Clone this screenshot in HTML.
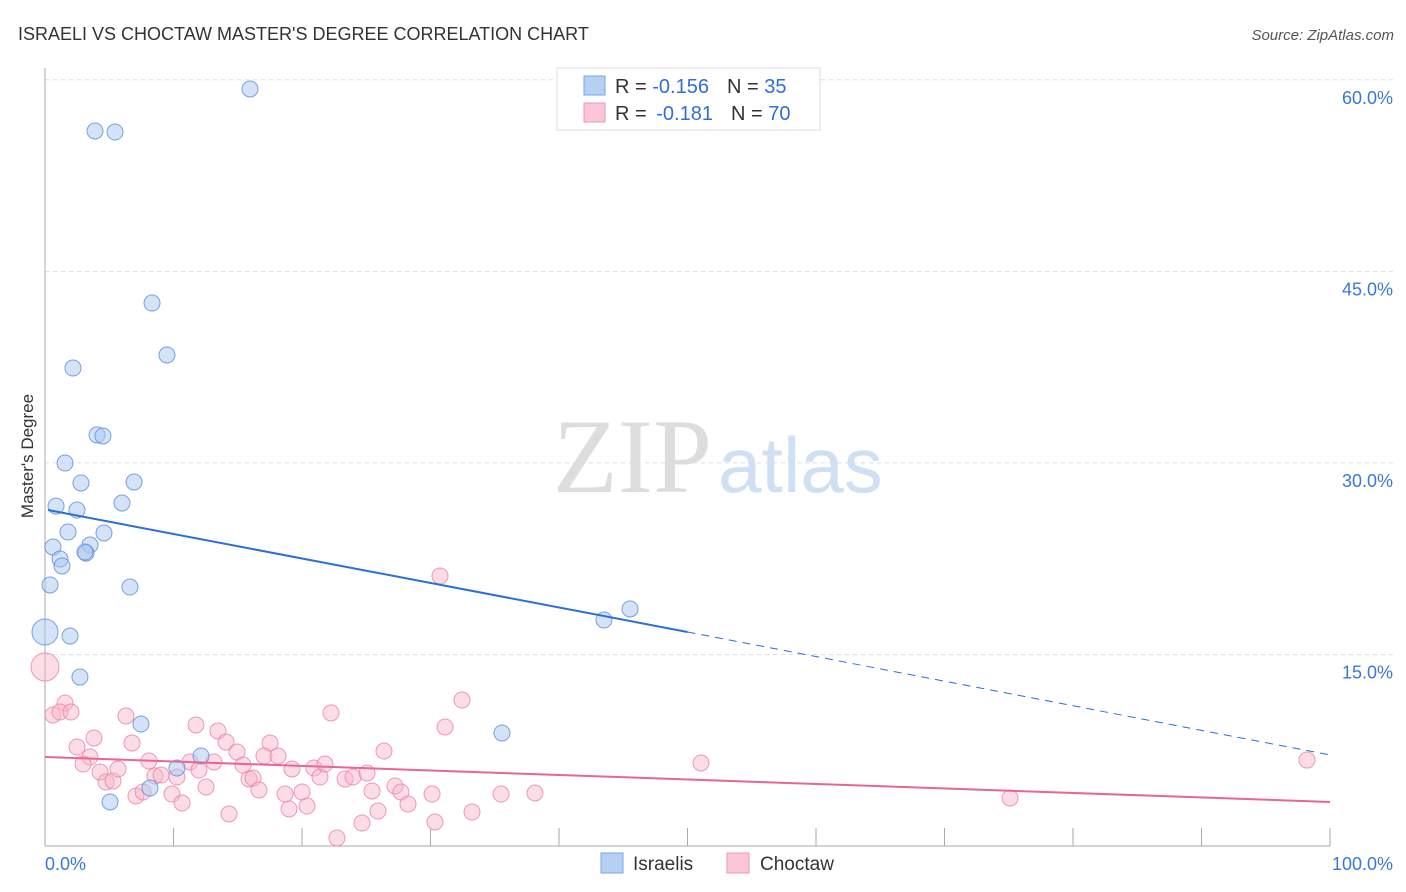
<!DOCTYPE html>
<html><head><meta charset="utf-8"><style>
body{margin:0;background:#fff;font-family:"Liberation Sans",sans-serif;}
svg{display:block}
</style></head><body>
<svg id="chart" width="1406" height="892">
<text x="18" y="40" font-size="18" fill="#333">ISRAELI VS CHOCTAW MASTER'S DEGREE CORRELATION CHART</text>
<text x="1394" y="40" font-size="15" fill="#555" font-style="italic" text-anchor="end">Source: ZipAtlas.com</text>
<text transform="translate(33,456) rotate(-90)" font-size="17" fill="#333" text-anchor="middle">Master's Degree</text>
<text x="553" y="492" font-size="106" fill="#ddd" font-family="Liberation Serif">ZIP</text>
<text x="718" y="492" font-size="78" fill="#d0e0f4">atlas</text>
<g id="grid"></g><g id="marks"></g>
<g>
<rect x="557" y="68" width="263" height="62" fill="#fff" stroke="#ddd"/>
<rect x="584" y="76" width="21" height="19" fill="#b6d0f4" stroke="#7aa6e6"/>
<rect x="584" y="103" width="21" height="19" fill="#fbc6d6" stroke="#ef95b3"/>
<text x="615" y="93" font-size="20" fill="#333">R = <tspan fill="#2f6fd6">-0.156</tspan><tspan dx="18">N = </tspan><tspan fill="#2f6fd6">35</tspan></text>
<text x="615" y="120" font-size="20" fill="#333">R = <tspan fill="#2f6fd6" dx="4">-0.181</tspan><tspan dx="18">N = </tspan><tspan fill="#2f6fd6">70</tspan></text>
</g>
<g>
<rect x="601" y="853" width="22" height="20" fill="#b6d0f4" stroke="#7aa6e6"/>
<text x="633" y="870" font-size="19" fill="#333">Israelis</text>
<rect x="727" y="853" width="22" height="20" fill="#fbc6d6" stroke="#ef95b3"/>
<text x="760" y="870" font-size="19" fill="#333">Choctaw</text>
</g>
</svg>
<script>
const yTicks=[60,45,30,15];
const xTickLabels=["0.0%","100.0%"];
const blueX=[15.95,3.89,5.45,8.33,9.49,2.18,4.05,4.51,1.56,2.80,6.93,5.99,0.86,2.49,1.79,4.59,0.62,3.50,3.19,1.17,1.32,6.61,0.39,0,1.95,2.72,7.47,12.14,10.27,8.17,5.06,45.53,43.50,35.56,3.11];
const blueY=[59.28,55.99,55.91,42.52,38.45,37.43,32.19,32.11,29.99,28.43,28.50,26.86,26.62,26.31,24.59,24.51,23.41,23.57,22.94,22.47,21.93,20.28,20.44,16.76,16.44,13.23,9.55,7.05,6.11,4.54,3.45,18.56,17.70,8.85,23.02];
const pinkX=[0,0.62,1.56,1.17,2.02,6.30,3.81,2.49,6.77,3.50,2.96,4.28,4.75,5.29,5.68,8.09,8.56,9.03,10.27,9.88,10.66,7.08,7.63,11.75,11.28,11.98,12.53,13.15,13.46,14.09,14.94,15.41,15.88,16.19,16.65,14.32,17.51,17.04,18.13,19.22,18.68,20.00,18.99,20.39,20.93,21.40,21.79,22.26,22.72,23.35,23.97,25.06,25.45,26.38,24.67,25.91,27.24,27.70,28.25,30.12,30.35,31.13,32.45,33.23,35.49,30.74,38.13,51.05,75.10,98.21];
const pinkY=[14.02,10.26,11.20,10.49,10.49,10.18,8.46,7.75,8.07,6.97,6.42,5.79,5.01,5.09,6.03,6.66,5.48,5.56,5.40,4.07,3.37,3.92,4.23,9.48,6.58,5.95,4.62,6.58,9.01,8.14,7.36,6.34,5.25,5.32,4.39,2.51,8.07,7.05,7.05,6.03,4.07,4.23,2.90,3.13,6.11,5.40,6.42,10.42,0.63,5.25,5.40,5.72,4.31,7.44,1.80,2.74,4.70,4.23,3.29,4.07,1.88,9.32,11.43,2.66,4.07,21.14,4.15,6.50,3.76,6.73];
const blueTrend=[26.31,16.76,7.13];
const pinkTrend=[6.97,3.45];
const X=v=>45+v*12.85, Y=v=>846-v*12.77;
const NS="http://www.w3.org/2000/svg";
const grid=document.getElementById('grid'), marks=document.getElementById('marks');
function mk(p,tag,a){const e=document.createElementNS(NS,tag);for(const k in a)e.setAttribute(k,a[k]);p.appendChild(e);return e;}
yTicks.forEach(t=>{
 const l=mk(grid,'line',{x1:45,x2:1393,y1:Y(t),y2:Y(t),stroke:'#ddd','stroke-dasharray':'4,4'});
 
 
 const tx=mk(grid,'text',{x:1393,y:Y(t)+24,'font-size':18,fill:'#3a78d8','text-anchor':'end'});
 tx.textContent=t.toFixed(1)+'%';
 
 
});
const ax=mk(grid,'line',{x1:45,x2:45,y1:68,y2:846,stroke:'#aaa'});


const bx=mk(grid,'line',{x1:45,x2:1330,y1:846,y2:846,stroke:'#aaa'});


for(let i=1;i<=10;i++){const t=mk(grid,'line',{x1:X(i*10),x2:X(i*10),y1:828,y2:846,stroke:'#aaa'});
 
 }
[[45,'start'],[1393,'end']].forEach((p,i)=>{const t=mk(grid,'text',{x:p[0],y:870,'font-size':18,fill:'#3a78d8','text-anchor':p[1]});t.textContent=xTickLabels[i];
 
 });
pinkX.forEach((x,i)=>{const c=mk(marks,'circle',{cx:X(x),cy:Y(pinkY[i]),r:i==0?14:8,fill:'rgba(248,180,200,0.45)',stroke:'rgba(234,130,165,0.8)','stroke-width':1});
 
 });
blueX.forEach((x,i)=>{const c=mk(marks,'circle',{cx:X(x),cy:Y(blueY[i]),r:x==0?13:8,fill:'rgba(170,200,240,0.5)',stroke:'rgba(90,140,220,0.8)','stroke-width':1});
 
 });
const b1=mk(marks,'line',{x1:X(0.23),y1:Y(blueTrend[0]),x2:X(50),y2:Y(blueTrend[1]),stroke:'#2a6fd6','stroke-width':2});


const b2=mk(marks,'line',{x1:X(50),y1:Y(blueTrend[1]),x2:X(100),y2:Y(blueTrend[2]),stroke:'#2a6fd6','stroke-width':1,'stroke-dasharray':'8,6'});


const p1=mk(marks,'line',{x1:X(0),y1:Y(pinkTrend[0]),x2:X(100),y2:Y(pinkTrend[1]),stroke:'#e8659a','stroke-width':2});


</script>
</body></html>
